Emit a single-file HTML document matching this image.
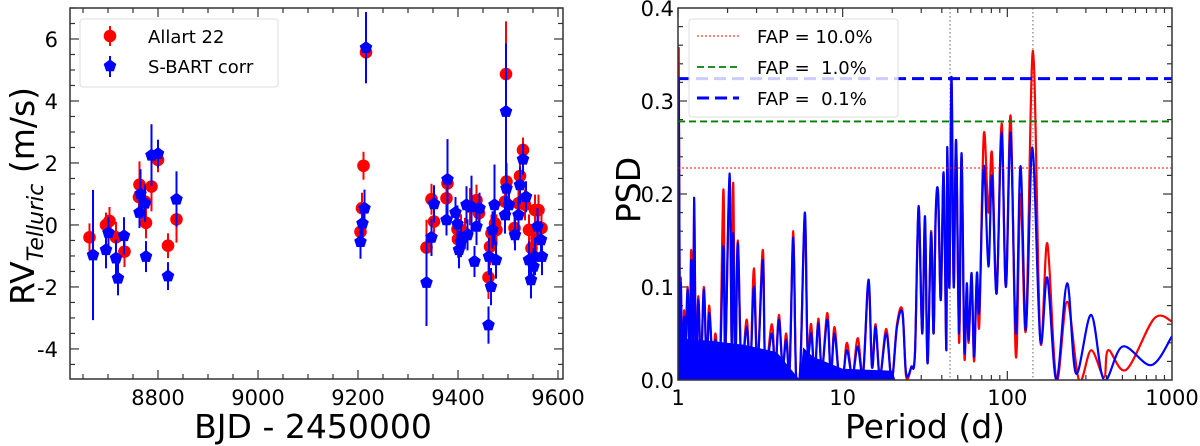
<!DOCTYPE html>
<html><head><meta charset="utf-8">
<style>
html,body{margin:0;padding:0;background:#fff;}
svg{display:block;font-family:"DejaVu Sans","Liberation Sans",sans-serif;}
</style></head>
<body>
<svg id="fig" width="1200" height="446" viewBox="0 0 1200 446">
<g id="left"></g>
<g id="right"></g>
</svg>
<script>
// ---------- Left panel data ----------
const redBJD = [8663,8696,8703,8716,8733,8762,8763,8774,8776,8787,8800,8820,8837,
 9205,9208,9211,9216,
 9337,9347,9352,9377,9379,9399,9400,9406,9414,9424,9437,9442,9461,9464,9467,9474,9477,9494,9496,9497,9513,9521,9524,9530,9534,9542,9547,9554,9557,9561,9567];
const redRV = [-0.4,0.0,0.13,-0.4,-0.86,0.9,1.3,0.75,0.07,1.24,2.1,-0.67,0.18,
 -0.22,0.54,1.91,5.57,
 -0.73,0.83,0.11,0.86,1.34,-0.14,-0.46,-0.16,-0.27,0.59,0.8,0.38,-1.69,-0.7,-0.27,0.05,-0.16,0.75,4.87,1.4,-0.1,0.7,1.58,2.42,0.65,-0.16,-0.75,0.48,-0.43,0.48,-0.1];
const redErr = [0.45,0.4,0.45,0.5,0.5,0.6,0.75,0.5,0.5,0.8,0.4,0.4,0.75,
 0.35,0.5,0.45,0.4,
 0.9,0.5,0.5,0.5,0.45,0.5,0.6,0.5,0.5,0.6,0.5,0.5,0.7,0.6,0.6,0.5,0.5,0.5,1.7,0.6,0.5,0.5,0.5,0.4,0.5,0.5,0.6,0.5,0.5,0.5,0.6];
const blueBJD = [8670,8696,8701,8716,8720,8732,8763,8765,8774,8776,8787,8800,8820,8837,
 9205,9209,9213,9216,
 9337,9347,9352,9377,9379,9395,9399,9402,9406,9417,9419,9427,9433,9437,9443,9461,9462,9466,9469,9473,9476,9494,9496,9497,9502,9514,9521,9524,9530,9536,9542,9546,9551,9554,9559,9566,9568];
const blueRV = [-0.97,-0.8,-0.25,-1.07,-1.72,-0.35,0.4,1.0,0.7,-1.02,2.25,2.3,-1.65,0.83,
 -0.54,0.05,0.54,5.72,
 -1.86,-0.4,0.68,0.16,1.47,0.4,0.03,-0.8,-0.54,0.65,-0.32,0.59,-1.18,-0.05,0.54,-3.23,-1.02,-1.99,-0.16,0.65,-1.13,0.32,3.66,1.18,0.65,-0.32,0.32,1.29,2.12,0.91,-1.13,-1.77,-1.34,-1.02,-0.05,-0.48,-1.02];
const blueErr = [2.1,0.6,0.5,0.6,0.55,0.6,0.5,0.8,0.6,0.5,1.0,0.45,0.45,0.9,
 0.55,0.6,0.6,1.15,
 1.4,0.6,0.6,0.5,1.3,0.5,0.6,0.6,0.5,0.6,0.5,1.0,0.5,0.6,0.5,0.6,0.6,0.6,0.6,1.3,0.6,0.6,2.2,0.8,0.5,0.5,0.6,0.6,0.5,0.5,0.6,0.6,0.6,0.6,0.6,0.6,0.6];
const leftXTicks = [8800,9000,9200,9400,9600];
const leftYTicks = [-4,-2,0,2,4,6];

// ---------- Right panel data (log10 period, power) ----------
const blueLogP = [0,.004,.011,.017,.026,.037,.043,.059,.070,.080,.091,.098,.109,.124,.139,.157,.174,.189,.211,.228,.254,.276,.287,.313,.326,.335,.348,.363,.385,.417,.439,.461,.483,.515,.530,.570,.591,.613,.635,.657,.678,.700,.717,.743,.770,.787,.809,.830,.852,.874,.907,.928,.950,.978,1.004,1.026,1.059,1.091,1.124,1.157,1.178,1.2,1.226,1.265,1.298,1.330,1.363,1.385,1.417,1.439,1.461,1.483,1.5,1.515,1.537,1.552,1.565,1.580,1.596,1.613,1.630,1.635,1.648,1.661,1.674,1.689,1.707,1.722,1.739,1.754,1.765,1.783,1.798,1.815,1.830,1.857,1.885,1.907,1.935,1.965,1.991,2.020,2.052,2.080,2.113,2.152,2.2,2.243,2.298,2.363,2.417,2.509,2.587,2.7,2.874,3.0];
const bluePow = [0,.323,.05,.104,.014,.068,.022,.097,.014,.129,.014,.196,.022,.086,.014,.097,.014,.072,.018,.043,.014,.144,.029,.222,.036,.158,.014,.147,.014,.057,.011,.1,.014,.129,.014,.050,.011,.065,.014,.043,.011,.153,.004,.014,.180,.032,.050,.007,.061,.011,.065,.007,.050,.004,.007,.032,.004,.036,.007,.108,.014,.057,.004,.050,0,.057,.072,.007,.014,.029,.187,.050,.176,.018,.158,.050,.180,.200,.086,.223,.032,.250,.100,.326,.100,.258,.050,.244,.032,.104,.043,.115,.025,.115,.075,.230,.122,.220,.093,.266,.100,.266,.050,.230,.054,.250,.043,.110,0,.104,.007,.070,0,.036,.016,.047];
const redLogP = [0,.004,.011,.017,.026,.037,.043,.059,.070,.080,.091,.098,.109,.124,.139,.157,.174,.189,.211,.228,.254,.276,.287,.313,.326,.335,.348,.363,.385,.417,.439,.461,.483,.515,.530,.570,.591,.613,.635,.657,.678,.700,.717,.743,.770,.787,.809,.830,.852,.874,.907,.928,.950,.978,1.004,1.026,1.059,1.091,1.124,1.157,1.178,1.2,1.226,1.265,1.298,1.330,1.363,1.385,1.417,1.439,1.461,1.483,1.5,1.515,1.537,1.552,1.565,1.580,1.596,1.613,1.630,1.635,1.648,1.661,1.674,1.689,1.707,1.722,1.739,1.754,1.765,1.783,1.798,1.815,1.830,1.857,1.885,1.907,1.935,1.965,1.991,2.020,2.052,2.080,2.113,2.156,2.2,2.243,2.298,2.363,2.435,2.509,2.587,2.613,2.722,2.891,3.0];
const redPow = [0,.357,.05,.11,.014,.075,.022,.1,.014,.14,.014,.19,.022,.09,.014,.1,.014,.08,.018,.05,.014,.205,.029,.218,.036,.212,.014,.15,.014,.065,.011,.12,.014,.14,.014,.060,.011,.07,.014,.05,.011,.16,.004,.014,.175,.032,.06,.004,.066,.011,.072,.004,.057,.004,.004,.040,.004,.045,.007,.105,.014,.060,.004,.055,0,.06,.075,.004,.014,.03,.185,.050,.170,.018,.160,.050,.175,.195,.086,.220,.032,.245,.100,.320,.100,.255,.040,.240,.025,.100,.040,.110,.020,.110,.060,.264,.180,.244,.093,.276,.100,.284,.025,.200,.054,.354,.043,.147,0,.084,0,.032,.003,.032,.011,.066,.063];
const blueFloorLogP = [0,.2,.4,.6,.74,.76,.82,1.0,1.3,1.32];
const blueFloorPow  = [.045,.042,.038,.03,.0,.035,.025,.012,.01,0];
const fapLabels = ["FAP = 10.0%","FAP =  1.0%","FAP =  0.1%"];
const fapLevels = [0.228,0.278,0.324];
const markedPeriods = [44.9,143];
const rightXTicks = [1,10,100,1000];
const rightYTicks = [0.0,0.1,0.2,0.3,0.4];

const NS="http://www.w3.org/2000/svg";
function mk(parent,tag,attrs){const e=document.createElementNS(NS,tag);for(const k in attrs)e.setAttribute(k,attrs[k]);parent.appendChild(e);return e;}
function spline(P){let d='M'+P[0][0].toFixed(1)+','+P[0][1].toFixed(1);
 for(let i=0;i<P.length-1;i++){const p0=P[Math.max(i-1,0)],p1=P[i],p2=P[i+1],p3=P[Math.min(i+2,P.length-1)];
  const t=0.5/3;const c1=[p1[0]+(p2[0]-p0[0])*t,p1[1]+(p2[1]-p0[1])*t];const c2=[p2[0]-(p3[0]-p1[0])*t,p2[1]-(p3[1]-p1[1])*t];
  d+=' C'+c1[0].toFixed(1)+','+c1[1].toFixed(1)+' '+c2[0].toFixed(1)+','+c2[1].toFixed(1)+' '+p2[0].toFixed(1)+','+p2[1].toFixed(1);}
 return d;}

// ---------- Left panel ----------
const L={x0:70,x1:563,y0:8,y1:379,xmin:8624,xmax:9610,ymin:-4.97,ymax:7.0};
const lx=v=>L.x0+(v-L.xmin)/(L.xmax-L.xmin)*(L.x1-L.x0);
const ly=v=>L.y1-(v-L.ymin)/(L.ymax-L.ymin)*(L.y1-L.y0);
const lg=document.getElementById('left');
for(let v=8650;v<=9600;v+=50){const major=v%200===0;const x=lx(v);const len=major?9:5;
 let t=mk(lg,'line',{x1:x,x2:x,y1:L.y1,y2:L.y1-len,stroke:'#333','stroke-width':1.2});
 
 t=mk(lg,'line',{x1:x,x2:x,y1:L.y0,y2:L.y0+len,stroke:'#333','stroke-width':1.2});
 }
for(let v=-4.5;v<=7;v+=0.5){const major=Math.abs(v%2)<1e-9;const y=ly(v);const len=major?9:5;
 let t=mk(lg,'line',{x1:L.x0,x2:L.x0+len,y1:y,y2:y,stroke:'#333','stroke-width':1.2});
 
 t=mk(lg,'line',{x1:L.x1,x2:L.x1-len,y1:y,y2:y,stroke:'#333','stroke-width':1.2});
 }
leftXTicks.forEach(v=>{const t=mk(lg,'text',{x:lx(v),y:405,'text-anchor':'middle','font-size':21,fill:'#000'});t.textContent=v;
 });
leftYTicks.forEach(v=>{const t=mk(lg,'text',{x:L.x0-12,y:ly(v)+8,'text-anchor':'end','font-size':21,fill:'#000'});t.textContent=v;
 });
function pent(cx,cy,r){let p=[];for(let i=0;i<5;i++){const a=-Math.PI/2+i*2*Math.PI/5;p.push((cx+r*Math.cos(a)).toFixed(1)+','+(cy+r*Math.sin(a)).toFixed(1));}return p.join(' ');}
redBJD.forEach((d,i)=>{const x=lx(d);
 const e=mk(lg,'line',{x1:x,x2:x,y1:ly(redRV[i]+redErr[i]),y2:ly(redRV[i]-redErr[i]),stroke:'#ff0000','stroke-width':2});
 
 const c=mk(lg,'circle',{cx:x,cy:ly(redRV[i]),r:6.3,fill:'#ff0000'});
 });
blueBJD.forEach((d,i)=>{const x=lx(d);
 const e=mk(lg,'line',{x1:x,x2:x,y1:ly(blueRV[i]+blueErr[i]),y2:ly(blueRV[i]-blueErr[i]),stroke:'#0000ff','stroke-width':2});
 
 const c=mk(lg,'polygon',{points:pent(x,ly(blueRV[i]),6.6),fill:'#0000ff'});
 });
let fr=mk(lg,'rect',{x:L.x0,y:L.y0,width:L.x1-L.x0,height:L.y1-L.y0,fill:'none',stroke:'#333','stroke-width':1.5});

let lgb=mk(lg,'rect',{x:80,y:19,width:198,height:68,rx:3,fill:'#fff','fill-opacity':0.85,stroke:'#ddd','stroke-width':1});

let le=mk(lg,'line',{x1:110,x2:110,y1:26,y2:46,stroke:'#ff0000','stroke-width':2});
le=mk(lg,'circle',{cx:110,cy:36,r:6.3,fill:'#ff0000'});
le=mk(lg,'line',{x1:110,x2:110,y1:56,y2:77,stroke:'#0000ff','stroke-width':2});
le=mk(lg,'polygon',{points:pent(110,66,6.6),fill:'#0000ff'});
le=mk(lg,'text',{x:148,y:43,'font-size':18,fill:'#000'});le.textContent='Allart 22';
le=mk(lg,'text',{x:148,y:73,'font-size':18,fill:'#000'});le.textContent='S-BART corr';
le=mk(lg,'text',{x:313,y:438,'text-anchor':'middle','font-size':33,fill:'#000'});le.textContent='BJD - 2450000';
le=mk(lg,'text',{transform:'translate(34,196) rotate(-90)','text-anchor':'middle','font-size':33,fill:'#000'});

le.innerHTML='RV<tspan font-size="22" font-style="italic" dy="9">Telluric</tspan><tspan dy="-9"> (m/s)</tspan>';

// ---------- Right panel ----------
const R={x0:678,x1:1172,y0:8,y1:380,ymax:0.4};
const rx=lp=>R.x0+lp/3*(R.x1-R.x0);
const ry=v=>R.y1-v/R.ymax*(R.y1-R.y0);
const rg=document.getElementById('right');
const clip=mk(rg,'clipPath',{id:'rclip'});mk(clip,'rect',{x:R.x0,y:R.y0,width:R.x1-R.x0,height:R.y1-R.y0});
for(let d=1;d<1000;d*=10){for(let k=1;k<10;k++){const x=rx(Math.log10(d*k));const len=k===1?9:5;
 let t=mk(rg,'line',{x1:x,x2:x,y1:R.y1,y2:R.y1-len,stroke:'#333','stroke-width':1.2});
 t=mk(rg,'line',{x1:x,x2:x,y1:R.y0,y2:R.y0+len,stroke:'#333','stroke-width':1.2});}}
for(let i=1;i<20;i++){const v=i*0.02;const major=i%5===0;const y=ry(v);const len=major?9:5;
 let t=mk(rg,'line',{x1:R.x0,x2:R.x0+len,y1:y,y2:y,stroke:'#333','stroke-width':1.2});
 t=mk(rg,'line',{x1:R.x1,x2:R.x1-len,y1:y,y2:y,stroke:'#333','stroke-width':1.2});}
rightXTicks.forEach(v=>{const t=mk(rg,'text',{x:rx(Math.log10(v)),y:405,'text-anchor':'middle','font-size':21,fill:'#000'});t.textContent=v;
 });
rightYTicks.forEach(v=>{const t=mk(rg,'text',{x:R.x0-4,y:ry(v)+8,'text-anchor':'end','font-size':21,fill:'#000'});t.textContent=v.toFixed(1);
 });
const plot=mk(rg,'g',{'clip-path':'url(#rclip)'});

markedPeriods.forEach(p=>{const x=rx(Math.log10(p));const l=mk(plot,'line',{x1:x,x2:x,y1:R.y0,y2:R.y1,stroke:'#888','stroke-width':1.3,'stroke-dasharray':'1.5,2.5'});
 });
let pl=mk(plot,'path',{d:spline(redLogP.map((lp,i)=>[rx(lp),ry(redPow[i])])),fill:'none',stroke:'#ff0000','stroke-width':2.2,'stroke-linejoin':'round'});

let fp=[rx(0)+','+ry(0)].concat(blueFloorLogP.map((lp,i)=>rx(lp).toFixed(1)+','+ry(blueFloorPow[i]).toFixed(1))).join(' ');
pl=mk(plot,'polygon',{points:fp,fill:'#0000ff'});
pl=mk(plot,'path',{d:spline(blueLogP.map((lp,i)=>[rx(lp),ry(bluePow[i])])),fill:'none',stroke:'#0000ff','stroke-width':2.2,'stroke-linejoin':'round'});

const fapStyles=[{c:'#ff0000',w:1,d:'2,2'},{c:'#008000',w:1.8,d:'7,4'},{c:'#0000ff',w:3,d:'12,6'}];
fapLevels.forEach((v,i)=>{const s=fapStyles[i];const l=mk(plot,'line',{x1:R.x0,x2:R.x1,y1:ry(v),y2:ry(v),stroke:s.c,'stroke-width':s.w,'stroke-dasharray':s.d});
 });
fr=mk(rg,'rect',{x:R.x0,y:R.y0,width:R.x1-R.x0,height:R.y1-R.y0,fill:'none',stroke:'#333','stroke-width':1.5});

lgb=mk(rg,'rect',{x:689,y:19,width:209,height:98,rx:3,fill:'#fff','fill-opacity':0.8,stroke:'#ddd','stroke-width':1});

fapLabels.forEach((lab,i)=>{const s=fapStyles[i];const y=36+i*31;
 const l=mk(rg,'line',{x1:697,x2:739,y1:y,y2:y,stroke:s.c,'stroke-width':s.w,'stroke-dasharray':s.d});
 
 const t=mk(rg,'text',{x:757,y:y+7,'font-size':18,fill:'#000'});t.textContent=lab;t.style.whiteSpace='pre';
 });
le=mk(rg,'text',{x:925,y:438,'text-anchor':'middle','font-size':33,fill:'#000'});le.textContent='Period (d)';
le=mk(rg,'text',{transform:'translate(640,190) rotate(-90)','text-anchor':'middle','font-size':33,fill:'#000'});le.textContent='PSD';
</script>
</body></html>
